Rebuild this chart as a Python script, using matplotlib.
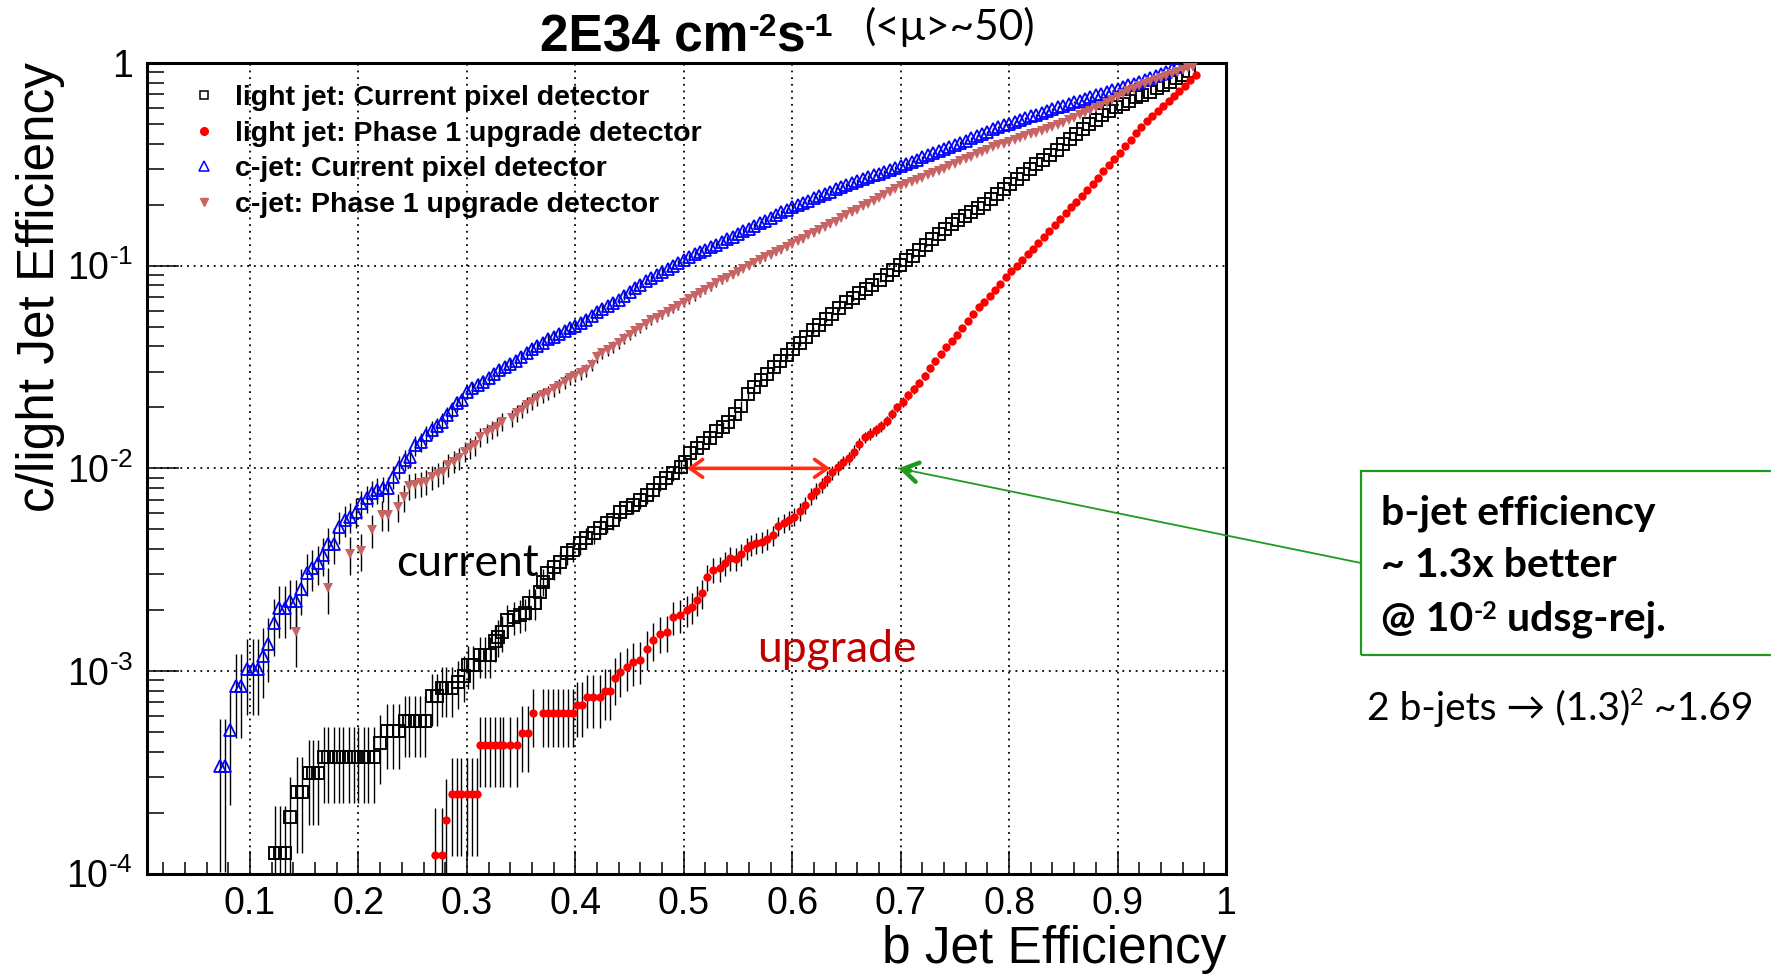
import matplotlib
matplotlib.use("Agg")
import matplotlib.pyplot as plt
import numpy as np
from matplotlib.lines import Line2D
from matplotlib.patches import Rectangle
from matplotlib.ticker import FuncFormatter, LogLocator, MultipleLocator, NullFormatter

# light jet, current pixel detector (open squares)
light_cur_x = [0.123, 0.128, 0.132, 0.137, 0.143, 0.148, 0.154, 0.158, 0.163, 0.168, 0.172, 0.177,
               0.182, 0.186, 0.191, 0.196, 0.200, 0.205, 0.209, 0.214, 0.220, 0.226, 0.232, 0.237,
               0.243, 0.247, 0.252, 0.257, 0.261, 0.268, 0.272, 0.277, 0.281, 0.286, 0.292, 0.297,
               0.301, 0.306, 0.312, 0.317, 0.321, 0.326, 0.329, 0.332, 0.337, 0.343, 0.349, 0.354,
               0.357, 0.363, 0.367, 0.370, 0.374, 0.380, 0.386, 0.392, 0.398, 0.404, 0.410, 0.417,
               0.423, 0.429, 0.435, 0.441, 0.447, 0.453, 0.460, 0.466, 0.472, 0.478, 0.484, 0.490,
               0.497, 0.501, 0.506, 0.512, 0.518, 0.524, 0.530, 0.536, 0.541, 0.547, 0.553, 0.559,
               0.565, 0.571, 0.577, 0.583, 0.589, 0.595, 0.601, 0.607, 0.613, 0.619, 0.625, 0.631,
               0.637, 0.643, 0.650, 0.656, 0.662, 0.668, 0.674, 0.681, 0.687, 0.693, 0.699, 0.705,
               0.711, 0.717, 0.723, 0.729, 0.735, 0.741, 0.747, 0.753, 0.759, 0.765, 0.771, 0.777,
               0.783, 0.789, 0.795, 0.801, 0.807, 0.813, 0.819, 0.825, 0.831, 0.838, 0.844, 0.850,
               0.856, 0.862, 0.868, 0.874, 0.880, 0.886, 0.892, 0.899, 0.905, 0.911, 0.917, 0.923,
               0.930, 0.936, 0.942, 0.948, 0.954, 0.960, 0.966]
light_cur_y = [1.27e-4, 1.27e-4, 1.27e-4, 1.90e-4, 2.52e-4, 2.52e-4, 3.15e-4, 3.15e-4, 3.15e-4,
               3.78e-4, 3.78e-4, 3.78e-4, 3.78e-4, 3.78e-4, 3.78e-4, 3.78e-4, 3.78e-4, 3.78e-4,
               3.78e-4, 3.78e-4, 4.43e-4, 5.08e-4, 5.08e-4, 5.08e-4, 5.66e-4, 5.66e-4, 5.66e-4,
               5.66e-4, 5.66e-4, 7.55e-4, 7.55e-4, 8.20e-4, 8.20e-4, 8.20e-4, 8.85e-4, 9.45e-4,
               1.07e-3, 1.07e-3, 1.20e-3, 1.20e-3, 1.20e-3, 1.40e-3, 1.48e-3, 1.55e-3, 1.79e-3,
               1.85e-3, 1.89e-3, 1.93e-3, 2.16e-3, 2.16e-3, 2.46e-3, 2.76e-3, 3.03e-3, 3.27e-3,
               3.46e-3, 3.81e-3, 3.95e-3, 4.27e-3, 4.52e-3, 4.78e-3, 5.06e-3, 5.35e-3, 5.56e-3,
               6.11e-3, 6.35e-3, 6.59e-3, 6.98e-3, 7.38e-3, 7.81e-3, 8.43e-3, 8.93e-3, 9.45e-3,
               1.02e-2, 1.08e-2, 1.19e-2, 1.26e-2, 1.33e-2, 1.41e-2, 1.52e-2, 1.60e-2, 1.70e-2,
               1.86e-2, 2.04e-2, 2.32e-2, 2.51e-2, 2.72e-2, 2.92e-2, 3.16e-2, 3.39e-2, 3.63e-2,
               3.89e-2, 4.17e-2, 4.47e-2, 4.79e-2, 5.07e-2, 5.43e-2, 5.75e-2, 6.17e-2, 6.61e-2,
               6.92e-2, 7.33e-2, 7.67e-2, 8.04e-2, 8.51e-2, 9.02e-2, 9.55e-2, 0.101, 0.107,
               0.112, 0.119, 0.126, 0.135, 0.143, 0.151, 0.160, 0.168, 0.176, 0.184, 0.193,
               0.202, 0.214, 0.226, 0.240, 0.254, 0.269, 0.284, 0.299, 0.316, 0.333, 0.352,
               0.373, 0.398, 0.422, 0.447, 0.475, 0.501, 0.525, 0.552, 0.578, 0.608, 0.631,
               0.653, 0.676, 0.698, 0.721, 0.750, 0.780, 0.809, 0.839, 0.871, 0.908]

# light jet, phase 1 upgrade detector (red dots)
light_up_x = [0.271, 0.277, 0.281, 0.286, 0.2905, 0.295, 0.300, 0.3045, 0.309, 0.312, 0.3167,
              0.3213, 0.3259, 0.3305, 0.3336, 0.3397, 0.3459, 0.3505, 0.3566, 0.3612, 0.3704,
              0.3750, 0.3797, 0.3843, 0.3889, 0.3935, 0.3981, 0.4012, 0.4058, 0.4105, 0.4165,
              0.4227, 0.4273, 0.4319, 0.4365, 0.4411, 0.4473, 0.4534, 0.4596, 0.4658, 0.4719,
              0.4780, 0.4842, 0.4903, 0.4965, 0.5027, 0.5073, 0.5119, 0.5165, 0.5211, 0.5272,
              0.5334, 0.5380, 0.5426, 0.548, 0.553, 0.558, 0.562, 0.567, 0.572, 0.577, 0.582,
              0.587, 0.592, 0.597, 0.602, 0.607, 0.612, 0.617, 0.622, 0.627, 0.632, 0.637, 0.642,
              0.647, 0.652, 0.657, 0.662, 0.667, 0.672, 0.677, 0.682, 0.687, 0.692, 0.697, 0.702,
              0.707, 0.712, 0.717, 0.722, 0.727, 0.732, 0.737, 0.742, 0.747, 0.752, 0.757, 0.762,
              0.767, 0.772, 0.777, 0.782, 0.787, 0.792, 0.797, 0.802, 0.807, 0.812, 0.817, 0.822,
              0.827, 0.832, 0.837, 0.842, 0.847, 0.852, 0.857, 0.862, 0.867, 0.872, 0.877, 0.882,
              0.887, 0.892, 0.897, 0.902, 0.907, 0.912, 0.917, 0.922, 0.927, 0.932, 0.937, 0.942,
              0.947, 0.952, 0.957, 0.962, 0.967, 0.972]
light_up_y = [1.24e-4, 1.24e-4, 1.85e-4, 2.47e-4, 2.47e-4, 2.47e-4, 2.47e-4, 2.47e-4, 2.47e-4,
              4.32e-4, 4.32e-4, 4.32e-4, 4.32e-4, 4.32e-4, 4.32e-4, 4.32e-4, 4.32e-4, 4.93e-4,
              4.93e-4, 6.18e-4, 6.18e-4, 6.18e-4, 6.18e-4, 6.18e-4, 6.18e-4, 6.18e-4, 6.18e-4,
              6.79e-4, 6.79e-4, 7.41e-4, 7.41e-4, 7.41e-4, 7.99e-4, 7.99e-4, 9.20e-4, 9.92e-4,
              1.05e-3, 1.11e-3, 1.13e-3, 1.29e-3, 1.42e-3, 1.53e-3, 1.56e-3, 1.85e-3, 1.89e-3,
              2.00e-3, 2.07e-3, 2.24e-3, 2.42e-3, 2.92e-3, 3.15e-3, 3.21e-3, 3.40e-3, 3.60e-3,
              3.59e-3, 3.77e-3, 4.03e-3, 4.19e-3, 4.30e-3, 4.35e-3, 4.47e-3, 4.68e-3, 5.19e-3,
              5.40e-3, 5.55e-3, 5.78e-3, 6.14e-3, 6.61e-3, 7.29e-3, 7.73e-3, 8.26e-3, 8.91e-3,
              9.55e-3, 1.01e-2, 1.07e-2, 1.12e-2, 1.21e-2, 1.32e-2, 1.42e-2, 1.48e-2, 1.54e-2,
              1.61e-2, 1.72e-2, 1.86e-2, 2.00e-2, 2.13e-2, 2.29e-2, 2.45e-2, 2.64e-2, 2.86e-2,
              3.11e-2, 3.37e-2, 3.66e-2, 3.95e-2, 4.25e-2, 4.57e-2, 4.94e-2, 5.35e-2, 5.78e-2,
              6.24e-2, 6.64e-2, 7.08e-2, 7.59e-2, 8.13e-2, 8.75e-2, 9.38e-2, 0.100, 0.107, 0.114,
              0.121, 0.129, 0.138, 0.148, 0.158, 0.169, 0.181, 0.194, 0.207, 0.221, 0.237, 0.254,
              0.272, 0.292, 0.313, 0.335, 0.361, 0.389, 0.419, 0.452, 0.484, 0.515, 0.547, 0.579,
              0.614, 0.649, 0.687, 0.728, 0.773, 0.820, 0.871]

# c-jet, current pixel detector (open blue triangles)
c_cur_x = [0.0723, 0.077, 0.0815, 0.087, 0.092, 0.097, 0.1025, 0.107, 0.112, 0.117, 0.1224, 0.1267,
           0.1322, 0.1369, 0.1421, 0.147, 0.1523, 0.1574, 0.1624, 0.1676, 0.1722, 0.1774, 0.1823,
           0.1876, 0.1922, 0.1977, 0.2023, 0.2076, 0.2122, 0.2174, 0.2223, 0.2275, 0.2321, 0.2376,
           0.2429, 0.2475, 0.2521, 0.2577, 0.2623, 0.2675, 0.2721, 0.2767, 0.2814, 0.2860, 0.2906,
           0.2952, 0.300, 0.305, 0.310, 0.315, 0.320, 0.325, 0.330, 0.335, 0.340, 0.345, 0.350,
           0.355, 0.360, 0.365, 0.370, 0.375, 0.380, 0.385, 0.390, 0.395, 0.400, 0.405, 0.410,
           0.415, 0.420, 0.425, 0.430, 0.435, 0.440, 0.445, 0.450, 0.455, 0.460, 0.465, 0.470,
           0.475, 0.480, 0.485, 0.490, 0.495, 0.500, 0.505, 0.510, 0.515, 0.520, 0.525, 0.530,
           0.535, 0.540, 0.545, 0.550, 0.555, 0.560, 0.565, 0.570, 0.575, 0.580, 0.585, 0.590,
           0.595, 0.600, 0.605, 0.610, 0.615, 0.620, 0.625, 0.630, 0.635, 0.640, 0.645, 0.650,
           0.655, 0.660, 0.665, 0.670, 0.675, 0.680, 0.685, 0.690, 0.695, 0.700, 0.705, 0.710,
           0.715, 0.720, 0.725, 0.730, 0.735, 0.740, 0.745, 0.750, 0.755, 0.760, 0.765, 0.770,
           0.775, 0.780, 0.785, 0.790, 0.795, 0.800, 0.805, 0.810, 0.815, 0.820, 0.825, 0.830,
           0.835, 0.840, 0.845, 0.850, 0.855, 0.860, 0.865, 0.870, 0.875, 0.880, 0.885, 0.890,
           0.895, 0.900, 0.905, 0.910, 0.915, 0.920, 0.925, 0.930, 0.935, 0.940, 0.945, 0.950,
           0.955]
c_cur_y = [3.40e-4, 3.40e-4, 5.10e-4, 8.40e-4, 8.40e-4, 1.02e-3, 1.02e-3, 1.02e-3, 1.18e-3, 1.36e-3,
           1.72e-3, 2.04e-3, 2.04e-3, 2.22e-3, 2.22e-3, 2.54e-3, 3.05e-3, 3.21e-3, 3.40e-3, 3.73e-3,
           4.23e-3, 4.23e-3, 5.15e-3, 5.56e-3, 5.77e-3, 6.11e-3, 6.71e-3, 7.11e-3, 7.53e-3, 7.82e-3,
           7.96e-3, 7.96e-3, 9.10e-3, 1.02e-2, 1.10e-2, 1.14e-2, 1.30e-2, 1.35e-2, 1.46e-2, 1.55e-2,
           1.61e-2, 1.70e-2, 1.83e-2, 1.94e-2, 2.09e-2, 2.17e-2, 2.39e-2, 2.48e-2, 2.58e-2, 2.67e-2,
           2.79e-2, 2.92e-2, 3.05e-2, 3.16e-2, 3.28e-2, 3.40e-2, 3.55e-2, 3.71e-2, 3.87e-2, 4.02e-2,
           4.17e-2, 4.33e-2, 4.47e-2, 4.61e-2, 4.75e-2, 4.90e-2, 5.06e-2, 5.21e-2, 5.40e-2, 5.64e-2,
           5.89e-2, 6.12e-2, 6.32e-2, 6.53e-2, 6.76e-2, 7.08e-2, 7.43e-2, 7.76e-2, 8.05e-2, 8.36e-2,
           8.67e-2, 8.99e-2, 9.31e-2, 9.64e-2, 9.98e-2, 0.103, 0.107, 0.110, 0.114, 0.117, 0.120,
           0.124, 0.127, 0.131, 0.135, 0.139, 0.143, 0.148, 0.152, 0.157, 0.162, 0.167, 0.172,
           0.177, 0.183, 0.188, 0.194, 0.199, 0.204, 0.209, 0.215, 0.220, 0.227, 0.232, 0.238,
           0.244, 0.250, 0.255, 0.261, 0.267, 0.273, 0.279, 0.284, 0.290, 0.297, 0.303, 0.309,
           0.317, 0.325, 0.333, 0.342, 0.350, 0.358, 0.366, 0.375, 0.384, 0.394, 0.404, 0.414,
           0.425, 0.436, 0.447, 0.458, 0.470, 0.482, 0.492, 0.502, 0.513, 0.524, 0.535, 0.546,
           0.557, 0.569, 0.581, 0.593, 0.605, 0.617, 0.630, 0.641, 0.653, 0.667, 0.679, 0.692,
           0.706, 0.719, 0.733, 0.746, 0.760, 0.776, 0.791, 0.807, 0.824, 0.841, 0.861, 0.883,
           0.906, 0.931, 0.957]

# c-jet, phase 1 upgrade detector (filled down triangles)
c_up_x = [0.1421, 0.1722, 0.1922, 0.2021, 0.2122, 0.2220, 0.2275, 0.2367, 0.2423, 0.2469, 0.2521,
          0.2577, 0.2623, 0.2675, 0.2730, 0.2776, 0.2828, 0.2880, 0.2930, 0.2982, 0.3028, 0.3074,
          0.3121, 0.3182, 0.3229, 0.3275, 0.3321, 0.3413, 0.3459, 0.3505, 0.3551, 0.3597, 0.365,
          0.370, 0.375, 0.380, 0.385, 0.390, 0.395, 0.400, 0.405, 0.410, 0.415, 0.420, 0.425,
          0.430, 0.435, 0.440, 0.445, 0.450, 0.455, 0.460, 0.465, 0.470, 0.475, 0.480, 0.485,
          0.490, 0.495, 0.500, 0.505, 0.510, 0.515, 0.520, 0.525, 0.530, 0.535, 0.540, 0.545,
          0.550, 0.555, 0.560, 0.565, 0.570, 0.575, 0.580, 0.585, 0.590, 0.595, 0.600, 0.605,
          0.610, 0.615, 0.620, 0.625, 0.630, 0.635, 0.640, 0.645, 0.650, 0.655, 0.660, 0.665,
          0.670, 0.675, 0.680, 0.685, 0.690, 0.695, 0.700, 0.705, 0.710, 0.715, 0.720, 0.725,
          0.730, 0.735, 0.740, 0.745, 0.750, 0.755, 0.760, 0.765, 0.770, 0.775, 0.780, 0.785,
          0.790, 0.795, 0.800, 0.805, 0.810, 0.815, 0.820, 0.825, 0.830, 0.835, 0.840, 0.845,
          0.850, 0.855, 0.860, 0.865, 0.870, 0.875, 0.880, 0.885, 0.890, 0.895, 0.900, 0.905,
          0.910, 0.915, 0.920, 0.925, 0.930, 0.935, 0.940, 0.945, 0.950, 0.955, 0.960, 0.965,
          0.970]
c_up_y = [1.55e-3, 2.56e-3, 3.77e-3, 3.93e-3, 4.97e-3, 5.89e-3, 5.89e-3, 6.47e-3, 7.19e-3, 8.18e-3,
          8.28e-3, 8.43e-3, 8.59e-3, 9.04e-3, 9.38e-3, 9.62e-3, 1.04e-2, 1.08e-2, 1.12e-2, 1.21e-2,
          1.26e-2, 1.30e-2, 1.43e-2, 1.49e-2, 1.55e-2, 1.60e-2, 1.70e-2, 1.77e-2, 1.87e-2, 1.94e-2,
          2.06e-2, 2.13e-2, 2.23e-2, 2.29e-2, 2.36e-2, 2.45e-2, 2.56e-2, 2.67e-2, 2.78e-2, 2.87e-2,
          2.96e-2, 3.05e-2, 3.24e-2, 3.56e-2, 3.69e-2, 3.83e-2, 3.98e-2, 4.16e-2, 4.37e-2, 4.55e-2,
          4.75e-2, 4.95e-2, 5.18e-2, 5.37e-2, 5.55e-2, 5.73e-2, 5.92e-2, 6.12e-2, 6.34e-2, 6.56e-2,
          6.81e-2, 7.06e-2, 7.33e-2, 7.60e-2, 7.89e-2, 8.17e-2, 8.45e-2, 8.73e-2, 9.04e-2, 9.33e-2,
          9.64e-2, 9.98e-2, 0.103, 0.107, 0.110, 0.113, 0.117, 0.120, 0.124, 0.128, 0.132, 0.136,
          0.141, 0.145, 0.150, 0.155, 0.160, 0.165, 0.171, 0.177, 0.183, 0.189, 0.196, 0.202,
          0.209, 0.216, 0.223, 0.230, 0.238, 0.246, 0.252, 0.259, 0.266, 0.272, 0.279, 0.286,
          0.294, 0.301, 0.309, 0.318, 0.327, 0.335, 0.344, 0.354, 0.363, 0.373, 0.383, 0.392,
          0.400, 0.408, 0.417, 0.426, 0.435, 0.444, 0.453, 0.462, 0.472, 0.482, 0.496, 0.508,
          0.522, 0.537, 0.551, 0.566, 0.581, 0.597, 0.614, 0.634, 0.656, 0.679, 0.702, 0.726,
          0.748, 0.767, 0.787, 0.805, 0.826, 0.847, 0.865, 0.883, 0.902, 0.920, 0.940, 0.957]

# jets behind each efficiency (sets the binomial error bars)
N_LIGHT_JETS = 16000
N_C_JETS = 6000

legend_labels = ["light jet: Current pixel detector", "light jet: Phase 1 upgrade detector",
                 "c-jet: Current pixel detector", "c-jet: Phase 1 upgrade detector"]

W, H = 1771, 974
RED = "#ff0000"
BLUE = "#0000ff"
PINK = "#c86464"
GREEN = "#1e9b1e"
ARROW_RED = "#ff2d16"
DARK_RED = "#c00000"
ROOT_FONT = ["Liberation Sans", "DejaVu Sans"]
SLIDE_FONT = ["Lato", "DejaVu Sans"]

plt.rcParams["font.family"] = ROOT_FONT
plt.rcParams["mathtext.fontset"] = "custom"
plt.rcParams["mathtext.rm"] = "Liberation Sans"
plt.rcParams["mathtext.it"] = "Liberation Sans:italic"
plt.rcParams["mathtext.bf"] = "Liberation Sans:bold"


def fx(px):
    return px / W


def fy(py):
    return 1 - py / H


def draw_series(ax, x, y, n_jets, **style):
    x = np.asarray(x)
    y = np.asarray(y)
    err = np.sqrt(y * (1 - y) / n_jets)
    lower = np.minimum(err, y * 0.999)
    ax.errorbar(x, y, yerr=[lower, err], fmt="none", ecolor="black",
                elinewidth=1.0, capsize=0, zorder=2)
    ax.plot(x, y, linestyle="none", zorder=3, **style)


def chain(ax, parts, x0, y0, **common):
    # write text pieces one after another; (text, size, raised) per piece
    first = None
    prev = None
    for text, size, raised in parts:
        if first is None:
            first = ax.figure.text(fx(x0), fy(y0), text, fontsize=size, ha="left",
                                   va="baseline", **common)
            prev = first
            continue
        if raised:
            prev = ax.annotate(text, xy=(1, 1), xycoords=(prev, first), xytext=(0, 1),
                               textcoords="offset points", ha="left", va="top",
                               fontsize=size, annotation_clip=False, **common)
        else:
            prev = ax.annotate(text, xy=(1, 0), xycoords=(prev, first), ha="left",
                               va="bottom", fontsize=size, annotation_clip=False, **common)
    return first


fig = plt.figure(figsize=(W / 100, H / 100), dpi=100)
ax = fig.add_axes([fx(147), fy(873.7), fx(1226 - 147), (873.7 - 63) / H])

sq = dict(marker="s", mfc="none", mec="black", mew=1.35, ms=8.4)
dot = dict(marker="o", mfc=RED, mec=RED, mew=0, ms=6.0)
tri = dict(marker="^", mfc="none", mec=BLUE, mew=1.3, ms=8.8)
dtri = dict(marker="v", mfc=PINK, mec=PINK, mew=0, ms=7.5)

draw_series(ax, light_cur_x, light_cur_y, N_LIGHT_JETS, **sq)
draw_series(ax, light_up_x, light_up_y, N_LIGHT_JETS, **dot)
draw_series(ax, c_cur_x, c_cur_y, N_C_JETS, **tri)
draw_series(ax, c_up_x, c_up_y, N_C_JETS, **dtri)

ax.set_yscale("log")
ax.set_xlim(0.005, 1.0)
ax.set_ylim(1e-4, 1.0)

ax.xaxis.set_major_locator(MultipleLocator(0.1))
ax.xaxis.set_minor_locator(MultipleLocator(0.02))
ax.xaxis.set_major_formatter(FuncFormatter(lambda v, _: f"{v:g}"))
ax.yaxis.set_major_locator(LogLocator(base=10, numticks=10))
ax.yaxis.set_minor_locator(LogLocator(base=10, subs=np.arange(2, 10), numticks=20))
ax.yaxis.set_minor_formatter(NullFormatter())


def y_label_fmt(v, _):
    exp = int(round(np.log10(v)))
    if exp == 0:
        return "1"
    return "$\\mathregular{10^{\u2010%d}}$" % abs(exp)


ax.yaxis.set_major_formatter(FuncFormatter(y_label_fmt))

ax.tick_params(axis="both", which="both", direction="in", top=False, right=False,
               width=1.1, colors="black", labelsize=27)
ax.tick_params(axis="x", which="major", length=16.5, pad=9)
ax.tick_params(axis="x", which="minor", length=8.5)
ax.tick_params(axis="y", which="major", length=23, pad=10)
ax.tick_params(axis="y", which="minor", length=12)
for spine in ax.spines.values():
    spine.set_linewidth(2.2)

ax.set_axisbelow(True)
ax.grid(True, which="major", color="black", linestyle=(0, (1, 2.7)), linewidth=1.3)

handles = [Line2D([], [], linestyle="none", marker="s", mfc="none", mec="black", mew=1.1, ms=6),
           Line2D([], [], linestyle="none", marker="o", mfc=RED, mec=RED, ms=5.5),
           Line2D([], [], linestyle="none", marker="^", mfc="none", mec=BLUE, mew=1.1, ms=6.5),
           Line2D([], [], linestyle="none", marker="v", mfc=PINK, mec=PINK, ms=6)]
ax.legend(handles, legend_labels, loc="upper left", bbox_to_anchor=(0.046, 0.973),
          frameon=False, borderaxespad=0, borderpad=0, handlelength=0.5,
          handletextpad=0.85, labelspacing=0.34,
          prop={"family": ROOT_FONT, "weight": "bold", "size": 20.5})

# arrows on the plot
ax.annotate("", xy=(0.503, 1e-2), xytext=(0.635, 1e-2),
            arrowprops=dict(arrowstyle="<->,head_length=0.45,head_width=0.32",
                            color=ARROW_RED, lw=2.6, mutation_scale=20,
                            shrinkA=0, shrinkB=0), zorder=5)
ax.annotate("", xy=(0.698, 1e-2), xytext=(1361, H - 563), textcoords="figure pixels",
            arrowprops=dict(arrowstyle="-", color=GREEN, lw=1.3, shrinkA=0, shrinkB=0),
            annotation_clip=False, zorder=5)
ax.annotate("", xy=(0.698, 1e-2), xytext=(11.8, -2.4), textcoords="offset pixels",
            arrowprops=dict(arrowstyle="->,head_length=0.55,head_width=0.35",
                            color=GREEN, lw=3.2, mutation_scale=20, shrinkA=0, shrinkB=0),
            zorder=5)

fig.text(fx(468), fy(563), "current", fontsize=32, family=SLIDE_FONT,
         ha="center", va="center")
fig.text(fx(837), fy(650), "upgrade", fontsize=32, family=SLIDE_FONT,
         color=DARK_RED, ha="center", va="center")

# axis titles and title
fig.text(fx(41), fy(62), "c/light Jet Efficiency", rotation=90, ha="center", va="top",
         fontsize=37)
fig.text(fx(1226), fy(963), "b Jet Efficiency", ha="right", va="baseline", fontsize=37)
chain(ax, [("2E34 cm", 37, False), ("-2", 23, True), ("s", 37, False), ("-1", 23, True)],
      540, 52, fontweight="bold", family=ROOT_FONT)
fig.text(fx(864), fy(40), "(<\u03bc>~50)", ha="left", va="baseline", fontsize=30.5,
         family=SLIDE_FONT)

# call-out box on the right
fig.add_artist(Rectangle((fx(1361), fy(655)), fx(W + 20 - 1361), (655 - 471) / H,
                         transform=fig.transFigure, fill=False, edgecolor=GREEN,
                         linewidth=1.6, clip_on=False))
box_font = dict(fontsize=29.5, fontweight="bold", family=SLIDE_FONT, ha="left", va="baseline")
fig.text(fx(1381), fy(524), "b-jet efficiency", **box_font)
fig.text(fx(1381), fy(577), "~ 1.3x better", **box_font)
chain(ax, [("@ 10", 29.5, False), ("-2", 18, True), (" udsg-rej.", 29.5, False)],
      1381, 631, fontweight="bold", family=SLIDE_FONT)
chain(ax, [("2 b-jets \u2192 (1.3)", 28, False), ("2", 17, True), (" ~1.69", 28, False)],
      1367, 720, family=SLIDE_FONT)

fig.savefig("out.png", dpi=100)
